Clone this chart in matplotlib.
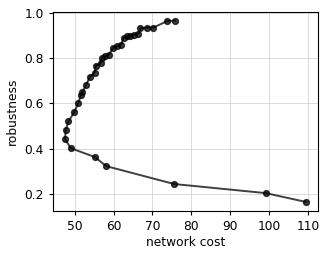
import matplotlib
matplotlib.use("Agg")
import matplotlib.pyplot as plt

# pareto front: network cost vs robustness
network_cost = [109.5, 99.1, 75.6, 58.1, 55.2, 49.0, 47.5, 47.7, 48.4, 49.85,
                50.86, 51.6, 52.0, 52.9, 53.9, 55.1, 55.5, 56.7, 57.0, 57.9,
                58.8, 59.9, 60.9, 61.9, 62.6, 63.5, 64.3, 65.2, 66.4, 66.9,
                68.5, 70.2, 73.8, 75.8]
robustness = [0.165, 0.204, 0.244, 0.323, 0.363, 0.402, 0.442, 0.483, 0.521, 0.56,
              0.60, 0.636, 0.65, 0.68, 0.717, 0.735, 0.767, 0.776, 0.80, 0.808,
              0.815, 0.846, 0.852, 0.859, 0.89, 0.896, 0.899, 0.902, 0.908, 0.931,
              0.934, 0.934, 0.963, 0.965]

fig = plt.figure(figsize=(3.33, 2.57), dpi=100)
ax = fig.add_axes([0.159, 0.179, 0.796, 0.776])

ax.plot(network_cost, robustness, "-o", color="k", alpha=0.75,
        markersize=4.2, linewidth=1.4)

ax.grid(True, color="#cccccc", linewidth=0.6, alpha=0.8)
ax.set_xlabel("network cost", fontsize=8.8, labelpad=2)
ax.set_ylabel("robustness", fontsize=8.8, labelpad=4)
ax.tick_params(labelsize=8.8, length=3)
ax.set_xticks([50, 60, 70, 80, 90, 100, 110])
ax.set_yticks([0.2, 0.4, 0.6, 0.8, 1.0])

fig.savefig("out.png", dpi=100)
